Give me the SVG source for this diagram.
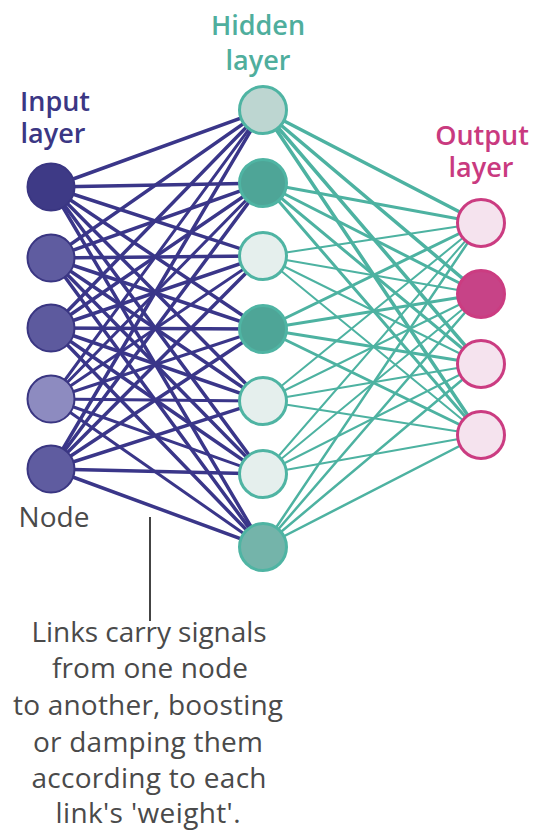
<svg xmlns="http://www.w3.org/2000/svg" width="533" height="830" viewBox="0 0 533 830">
  <style>
    .lbl { font-family: "Open Sans", "Noto Sans", "Liberation Sans", sans-serif; font-size: 27px; font-weight: 600; text-anchor: middle; }
    .in-lbl { fill: #3b3784; }
    .hid-lbl { fill: #4fae9d; }
    .out-lbl { fill: #c93a7f; }
    .note { font-family: "Open Sans", "Noto Sans", "Liberation Sans", sans-serif; font-size: 28px; font-weight: 500; fill: #4a4a4a; text-anchor: middle; }
    .ih { stroke: #3a3689; stroke-width: 3.5; stroke-linecap: round; }
    .ho { stroke: #4db2a1; stroke-linecap: round; }
    .in-node { stroke: #3a3682; stroke-width: 2; }
    .hid-node { stroke: #4fb4a3; stroke-width: 3; }
    .out-node { stroke: #cb3c81; stroke-width: 3; }
  </style>

  <rect width="533" height="830" fill="#ffffff"/>

  <!-- connectors: every input to every hidden node, every hidden to every output node -->
  <g id="links">
    <g id="links-input-hidden" class="ih">
      <line x1="51" y1="187" x2="263" y2="110"/>
      <line x1="51" y1="187" x2="263" y2="183"/>
      <line x1="51" y1="187" x2="263" y2="256"/>
      <line x1="51" y1="187" x2="263" y2="329"/>
      <line x1="51" y1="187" x2="263" y2="401"/>
      <line x1="51" y1="187" x2="263" y2="474"/>
      <line x1="51" y1="187" x2="263" y2="547"/>
      <line x1="51" y1="258" x2="263" y2="110"/>
      <line x1="51" y1="258" x2="263" y2="183"/>
      <line x1="51" y1="258" x2="263" y2="256"/>
      <line x1="51" y1="258" x2="263" y2="329"/>
      <line x1="51" y1="258" x2="263" y2="401"/>
      <line x1="51" y1="258" x2="263" y2="474"/>
      <line x1="51" y1="258" x2="263" y2="547"/>
      <line x1="51" y1="328" x2="263" y2="110"/>
      <line x1="51" y1="328" x2="263" y2="183"/>
      <line x1="51" y1="328" x2="263" y2="256"/>
      <line x1="51" y1="328" x2="263" y2="329"/>
      <line x1="51" y1="328" x2="263" y2="401"/>
      <line x1="51" y1="328" x2="263" y2="474"/>
      <line x1="51" y1="328" x2="263" y2="547"/>
      <line x1="51" y1="399" x2="263" y2="110" stroke-width="3"/>
      <line x1="51" y1="399" x2="263" y2="183" stroke-width="3"/>
      <line x1="51" y1="399" x2="263" y2="256" stroke-width="3"/>
      <line x1="51" y1="399" x2="263" y2="329" stroke-width="3"/>
      <line x1="51" y1="399" x2="263" y2="401" stroke-width="3"/>
      <line x1="51" y1="399" x2="263" y2="474" stroke-width="3"/>
      <line x1="51" y1="399" x2="263" y2="547" stroke-width="3"/>
      <line x1="51" y1="469" x2="263" y2="110"/>
      <line x1="51" y1="469" x2="263" y2="183"/>
      <line x1="51" y1="469" x2="263" y2="256"/>
      <line x1="51" y1="469" x2="263" y2="329"/>
      <line x1="51" y1="469" x2="263" y2="401"/>
      <line x1="51" y1="469" x2="263" y2="474"/>
      <line x1="51" y1="469" x2="263" y2="547"/>
    </g>
    <g id="links-hidden-output" class="ho">
      <g stroke-width="3.5">
        <line x1="263" y1="110" x2="481" y2="223"/>
        <line x1="263" y1="110" x2="481" y2="294"/>
        <line x1="263" y1="110" x2="481" y2="364"/>
        <line x1="263" y1="110" x2="481" y2="435"/>
      </g>
      <g stroke-width="3">
        <line x1="263" y1="183" x2="481" y2="223"/>
        <line x1="263" y1="183" x2="481" y2="294"/>
        <line x1="263" y1="183" x2="481" y2="364"/>
        <line x1="263" y1="183" x2="481" y2="435"/>
      </g>
      <g stroke-width="2">
        <line x1="263" y1="256" x2="481" y2="223"/>
        <line x1="263" y1="256" x2="481" y2="294"/>
        <line x1="263" y1="256" x2="481" y2="364"/>
        <line x1="263" y1="256" x2="481" y2="435"/>
      </g>
      <g stroke-width="3">
        <line x1="263" y1="329" x2="481" y2="223"/>
        <line x1="263" y1="329" x2="481" y2="294"/>
        <line x1="263" y1="329" x2="481" y2="364"/>
        <line x1="263" y1="329" x2="481" y2="435"/>
      </g>
      <g stroke-width="2">
        <line x1="263" y1="401" x2="481" y2="223"/>
        <line x1="263" y1="401" x2="481" y2="294"/>
        <line x1="263" y1="401" x2="481" y2="364"/>
        <line x1="263" y1="401" x2="481" y2="435"/>
      </g>
      <g stroke-width="2">
        <line x1="263" y1="474" x2="481" y2="223"/>
        <line x1="263" y1="474" x2="481" y2="294"/>
        <line x1="263" y1="474" x2="481" y2="364"/>
        <line x1="263" y1="474" x2="481" y2="435"/>
      </g>
      <g stroke-width="2.5">
        <line x1="263" y1="547" x2="481" y2="223"/>
        <line x1="263" y1="547" x2="481" y2="294"/>
        <line x1="263" y1="547" x2="481" y2="364"/>
        <line x1="263" y1="547" x2="481" y2="435"/>
      </g>
    </g>
    <!-- callout stem for the note below -->
    <line id="note-stem" x1="150" y1="517" x2="150" y2="621" stroke="#444444" stroke-width="2"/>
  </g>

  <!-- input layer -->
  <g id="input-1"><circle class="in-node" cx="51" cy="187" r="23.5" fill="#3e3a86"/></g>
  <g id="input-2"><circle class="in-node" cx="51" cy="258" r="23.5" fill="#5f5ca0"/></g>
  <g id="input-3"><circle class="in-node" cx="51" cy="328" r="23.5" fill="#5d5a9e"/></g>
  <g id="input-4"><circle class="in-node" cx="51" cy="399" r="23.5" fill="#8d8bc0"/></g>
  <g id="input-5"><circle class="in-node" cx="51" cy="469" r="23.5" fill="#5f5ca0"/></g>

  <!-- hidden layer -->
  <g id="hidden-1"><circle class="hid-node" cx="263" cy="110" r="23.5" fill="#bdd6d1"/></g>
  <g id="hidden-2"><circle class="hid-node" cx="263" cy="183" r="23.5" fill="#4ea597"/></g>
  <g id="hidden-3"><circle class="hid-node" cx="263" cy="256" r="23.5" fill="#e5efed"/></g>
  <g id="hidden-4"><circle class="hid-node" cx="263" cy="329" r="23.5" fill="#4ea597"/></g>
  <g id="hidden-5"><circle class="hid-node" cx="263" cy="401" r="23.5" fill="#e5efed"/></g>
  <g id="hidden-6"><circle class="hid-node" cx="263" cy="474" r="23.5" fill="#e5efed"/></g>
  <g id="hidden-7"><circle class="hid-node" cx="263" cy="547" r="23.5" fill="#74b4aa"/></g>

  <!-- output layer -->
  <g id="output-1"><circle class="out-node" cx="481" cy="223" r="23.5" fill="#f5e3ee"/></g>
  <g id="output-2"><circle class="out-node" cx="481" cy="294" r="23.5" fill="#c74387" stroke="#c74387"/></g>
  <g id="output-3"><circle class="out-node" cx="481" cy="364" r="23.5" fill="#f5e3ee"/></g>
  <g id="output-4"><circle class="out-node" cx="481" cy="435" r="23.5" fill="#f5e3ee"/></g>

  <!-- layer titles -->
  <g id="label-input" class="lbl in-lbl">
    <text x="55" y="111">Input</text>
    <text x="53" y="143">layer</text>
  </g>
  <g id="label-hidden" class="lbl hid-lbl">
    <text x="258" y="35">Hidden</text>
    <text x="258" y="70">layer</text>
  </g>
  <g id="label-output" class="lbl out-lbl">
    <text x="482" y="145">Output</text>
    <text x="481" y="177">layer</text>
  </g>

  <g id="label-node">
    <text class="note" x="54" y="527" font-size="27">Node</text>
  </g>

  <!-- explanatory note -->
  <g id="note">
    <text class="note" x="149" y="642" textLength="235" lengthAdjust="spacing">Links carry signals</text>
    <text class="note" x="150" y="678" textLength="196" lengthAdjust="spacing">from one node</text>
    <text class="note" x="148" y="715" textLength="270" lengthAdjust="spacing">to another, boosting</text>
    <text class="note" x="148" y="752" textLength="230" lengthAdjust="spacing">or damping them</text>
    <text class="note" x="149" y="788" textLength="235" lengthAdjust="spacing">according to each</text>
    <text class="note" x="148" y="823" textLength="185" lengthAdjust="spacing">link's 'weight'.</text>
  </g>
</svg>
